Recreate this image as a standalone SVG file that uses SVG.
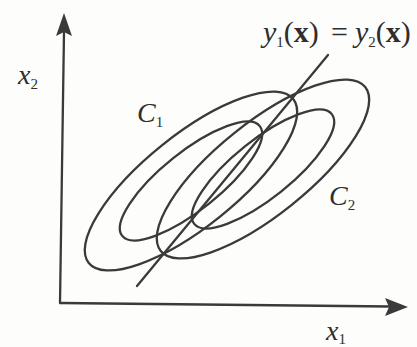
<svg xmlns="http://www.w3.org/2000/svg" width="417" height="347" viewBox="0 0 417 347">
<style>
.ln{fill:none;stroke:#3a3a3a;stroke-width:2.3;stroke-linecap:round}
.ah{fill:#3a3a3a;stroke:none}
.t{font-family:"Liberation Serif","Times New Roman",serif;fill:#2e2e2e}
.it{font-style:italic}
</style>
<rect width="417" height="347" fill="#fdfdfb"/>
<g id="axes">
<line class="ln" x1="64" y1="32" x2="60" y2="303"/>
<polygon class="ah" points="64,13 72,36 64,32 56,36"/>
<line class="ln" x1="60" y1="303" x2="390" y2="306.5"/>
<polygon class="ah" points="408,307 385,298 389,307 385,316"/>
</g>
<g id="C1">
<ellipse class="ln" cx="191" cy="181" rx="131" ry="46" transform="rotate(-38.7 191 181)"/>
<ellipse class="ln" cx="191" cy="181" rx="88" ry="29" transform="rotate(-38.6 191 181)"/>
</g>
<g id="C2">
<ellipse class="ln" cx="263" cy="169" rx="131" ry="46" transform="rotate(-38.7 263 169)"/>
<ellipse class="ln" cx="263" cy="169" rx="88" ry="29" transform="rotate(-38.6 263 169)"/>
</g>
<g id="connectors">
<line class="ln" x1="137" y1="286" x2="328" y2="55"/>
</g>
<g id="labels">
<text class="t" x="263" y="42" font-size="30"><tspan class="it">y</tspan><tspan font-size="15" dy="5">1</tspan><tspan dy="-5">(</tspan><tspan font-weight="bold">x</tspan><tspan>)</tspan></text>
<text class="t" x="331" y="42" font-size="30">=</text>
<text class="t" x="355" y="42" font-size="30"><tspan class="it">y</tspan><tspan font-size="15" dy="5">2</tspan><tspan dy="-5">(</tspan><tspan font-weight="bold">x</tspan><tspan>)</tspan></text>
<text class="t" x="18" y="84" font-size="28"><tspan class="it">x</tspan><tspan font-size="15" dy="5">2</tspan></text>
<text class="t" x="137" y="122" font-size="28"><tspan class="it">C</tspan><tspan font-size="15" dy="5">1</tspan></text>
<text class="t" x="329" y="205" font-size="28"><tspan class="it">C</tspan><tspan font-size="15" dy="5">2</tspan></text>
<text class="t" x="326" y="340" font-size="28"><tspan class="it">x</tspan><tspan font-size="15" dy="4">1</tspan></text>
</g>
</svg>
